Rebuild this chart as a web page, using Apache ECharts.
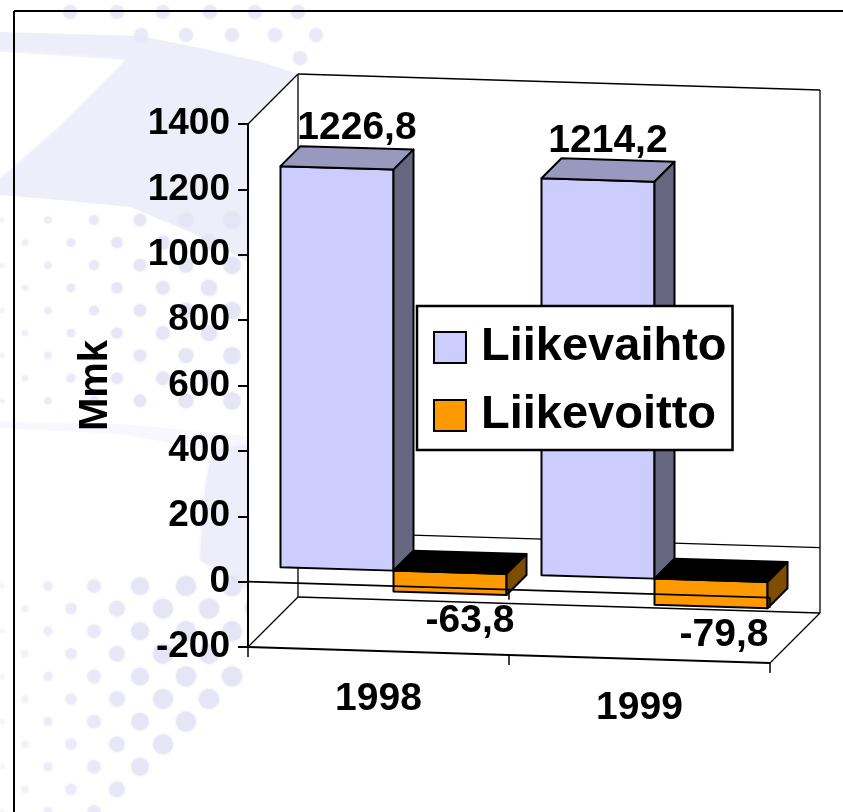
<!DOCTYPE html>
<html>
<head>
<meta charset="utf-8">
<style>html,body{margin:0;padding:0;background:#fff}#c{width:843px;height:812px}</style>
<script src="https://cdn.jsdelivr.net/npm/echarts@6/dist/echarts.min.js"></script>
</head>
<body>
<div id="c"></div>
<script>
const categories = ['1998', '1999'];
const liikevaihto = [1226.8, 1214.2];
const liikevoitto = [-63.8, -79.8];
const seriesNames = ['Liikevaihto', 'Liikevoitto'];

// layout of the oblique projection
const FONT = '"Liberation Sans", Arial, sans-serif';
const SLOPE = 16 / 522, WALL_DEPTH = 50, BAR_FRONT = 15, BAR_BACK = 35, BAR_W = 113;
const LABEL_NUDGE = [[[0, -20], [-10, -19]], [[20, 28], [13, 29]]];
const PALETTE = [
  {front: '#ccccff', top: '#9999bf', side: '#666680'},
  {front: '#ff9900', top: '#000000', side: '#7f4d00'}
];
const INK = '#000';

function projector(api) {
  const band = api.size([1, 0])[0];
  const x0 = api.coord([0, 0])[0] - band / 2;
  return {
    band, x0,
    pt(cat, value, xOff, depth) {
      const p = api.coord([cat, value]);
      const x = p[0] + xOff;
      return [x + depth, p[1] + SLOPE * (x - x0) - depth];
    },
    atX(px, value, depth) {
      const y = api.coord([0, value])[1];
      return [px + depth, y + SLOPE * (px - x0) - depth];
    }
  };
}
function line(a, b, w) {
  return {type: 'line', shape: {x1: a[0], y1: a[1], x2: b[0], y2: b[1]},
    style: {stroke: INK, lineWidth: w, lineCap: 'butt'}};
}
function poly(points, fill, w) {
  return {type: 'polygon', shape: {points}, style: {fill, stroke: INK, lineWidth: w, lineJoin: 'round'}};
}

function renderFrame(params, api) {
  const P = projector(api), x0 = P.x0, x1 = x0 + P.band * categories.length;
  const lo = -200, hi = 1400, d = WALL_DEPTH;
  const c = [];
  c.push(poly([P.atX(x0, lo, 0), P.atX(x0, hi, 0), P.atX(x0, hi, d), P.atX(x0, lo, d)], '#fff', 0));
  c.push(poly([P.atX(x0, lo, d), P.atX(x0, hi, d), P.atX(x1, hi, d), P.atX(x1, lo, d)], '#fff', 0));
  c.push(poly([P.atX(x0, lo, 0), P.atX(x0, lo, d), P.atX(x1, lo, d), P.atX(x1, lo, 0)], '#fff', 0));
  c.forEach(e => { e.style.stroke = '#fff'; e.style.lineWidth = 1; });
  c.push(line(P.atX(x0, hi, 0), P.atX(x0, hi, d), 1.3));
  c.push(line(P.atX(x0, hi, d), P.atX(x1, hi, d), 1.3));
  c.push(line(P.atX(x0, hi, d), P.atX(x0, lo, d), 1.3));
  c.push(line(P.atX(x1, hi, d), P.atX(x1, lo, d), 1.3));
  c.push(line(P.atX(x0, lo, 0), P.atX(x0, lo, d), 1.3));
  c.push(line(P.atX(x1, lo, 0), P.atX(x1, lo, d), 1.3));
  c.push(line(P.atX(x0, lo, d), P.atX(x1, lo, d), 1.3));
  c.push(line(P.atX(x0, 0, d), P.atX(x1, 0, d), 1.3));
  c.push(line(P.atX(x0, lo, 0), P.atX(x1, lo, 0), 2));
  for (let i = 0; i <= categories.length; i++) {
    const a = P.atX(x0 + P.band * i, lo, 0);
    c.push(line(a, [a[0], a[1] + 10], 1.5));
  }
  return {type: 'group', children: c};
}

function renderZero(params, api) {
  const P = projector(api), x0 = P.x0, x1 = x0 + P.band * categories.length;
  const c = [line(P.atX(x0, 0, 0), P.atX(x1, 0, 0), 2)];
  for (let i = 0; i <= categories.length; i++) {
    const a = P.atX(x0 + P.band * i, 0, 0);
    c.push(line(a, [a[0], a[1] + 10], 1.5));
  }
  return {type: 'group', children: c};
}

function renderBar(s) {
  return function (params, api) {
    const P = projector(api);
    const cat = api.value(0), v = api.value(1);
    const xa = s === 0 ? -BAR_W : 0, xb = s === 0 ? 0 : BAR_W;
    const hiV = Math.max(v, 0), loV = Math.min(v, 0);
    const f = BAR_FRONT, b = BAR_BACK, col = PALETTE[s];
    const c = [
      poly([P.pt(cat, hiV, xa, f), P.pt(cat, hiV, xb, f), P.pt(cat, loV, xb, f), P.pt(cat, loV, xa, f)], col.front, 2),
      poly([P.pt(cat, hiV, xa, f), P.pt(cat, hiV, xa, b), P.pt(cat, hiV, xb, b), P.pt(cat, hiV, xb, f)], col.top, 2),
      poly([P.pt(cat, hiV, xb, f), P.pt(cat, hiV, xb, b), P.pt(cat, loV, xb, b), P.pt(cat, loV, xb, f)], col.side, 2)
    ];
    const anchor = s === 0 ? P.pt(cat, v, (xa + xb) / 2, b) : P.pt(cat, v, (xa + xb) / 2, f);
    const n = LABEL_NUDGE[s][cat];
    c.push({type: 'text', z2: 10, style: {
      text: String(v).replace('.', ','), x: anchor[0] + n[0], y: anchor[1] + n[1],
      font: 'bold 39px ' + FONT, fill: INK, align: 'center', verticalAlign: 'middle'
    }});
    return {type: 'group', children: c};
  };
}

// decorative watermark behind the chart
function watermark() {
  const els = [];
  const dot = (x, y, r, o) => els.push({type: 'circle', silent: true, z: -5,
    shape: {cx: x, cy: y, r}, style: {fill: '#e4e4f5', opacity: o, shadowBlur: 3, shadowColor: '#e4e4f5'}});
  els.push({type: 'polygon', silent: true, z: -6, style: {fill: '#eeedfa'}, shape: {points: [
    [0, 32], [140, 36], [200, 48], [262, 62], [300, 75], [248, 124], [248, 262], [190, 232],
    [130, 207], [60, 200], [0, 195]]}});
  els.push({type: 'polygon', silent: true, z: -5, style: {fill: '#ffffff', shadowBlur: 4, shadowColor: '#ffffff'}, shape: {points: [
    [0, 52], [125, 60], [60, 125], [0, 178]]}});
  els.push({type: 'polygon', silent: true, z: -6, style: {fill: '#f7f7fd'}, shape: {points: [
    [0, 428], [120, 434], [210, 450], [248, 452], [248, 436], [120, 424], [0, 422]]}});
  els.push({type: 'polygon', silent: true, z: -6, style: {fill: '#eeedfa', shadowBlur: 4, shadowColor: '#eeedfa'}, shape: {points: [
    [248, 445], [212, 450], [205, 490], [200, 560], [248, 590]]}});
  for (let row = 0; row < 9; row++) {
    const y = 220 + row * 22.6;
    for (let x = (row % 2 ? 25 : 2); x < 248; x += 46) {
      dot(x, y, 2.5 + x / 38, Math.min(0.85, 0.3 + x / 250));
    }
  }
  for (let row = 0; row < 11; row++) {
    const y = 586 + row * 22.6;
    const lim = 300 - row * 16;
    for (let x = (row % 2 ? 25 : 2); x < lim; x += 46) {
      dot(x, y, Math.min(10, 2.5 + x / 22), Math.min(0.85, 0.25 + x / 250));
    }
  }
  [[70, 12], [117, 12], [163, 12], [210, 12], [255, 12], [298, 12],
   [141, 35], [186, 35], [232, 35], [275, 35], [316, 35],
   [300, 58]].forEach(p => dot(p[0], p[1], 7, 0.6));
  return els;
}

const chart = echarts.init(document.getElementById('c'), null, {renderer: 'canvas'});
chart.setOption({
  animation: false,
  backgroundColor: '#fff',
  tooltip: {show: false},
  grid: {left: 248, top: 124, width: 522, height: 523, containLabel: false},
  xAxis: {
    type: 'category', data: categories,
    axisLine: {show: false}, axisTick: {show: false}, splitLine: {show: false},
    axisLabel: {
      margin: 33, interval: 0, color: INK, fontFamily: FONT, fontWeight: 'bold', fontSize: 39,
      formatter: (v, i) => '{c' + i + '|' + v + '}',
      rich: {
        c0: {fontFamily: FONT, fontWeight: 'bold', fontSize: 39, color: INK},
        c1: {fontFamily: FONT, fontWeight: 'bold', fontSize: 39, color: INK, padding: [9, 0, 0, 0]}
      }
    }
  },
  yAxis: {
    type: 'value', min: -200, max: 1400, interval: 200, z: 3,
    name: 'Mmk', nameLocation: 'middle', nameRotate: 90, nameGap: 132,
    nameTextStyle: {color: INK, fontFamily: FONT, fontWeight: 'bold', fontSize: 40},
    axisLine: {show: true, onZero: false, lineStyle: {color: INK, width: 2}},
    axisTick: {show: true, length: 10, lineStyle: {color: INK, width: 2}},
    splitLine: {show: false},
    axisLabel: {margin: 18, color: INK, fontFamily: FONT, fontWeight: 'bold', fontSize: 37, formatter: v => String(v)}
  },
  legend: {
    show: true, orient: 'vertical', left: 417, top: 306, align: 'left',
    data: seriesNames.map((n, i) => ({name: n, icon: 'rect', itemStyle: {color: PALETTE[i].front, borderColor: INK, borderWidth: 2}})),
    itemWidth: 32, itemHeight: 31, itemGap: 21,
    padding: [18, 6, 11, 16],
    backgroundColor: '#fff', borderColor: INK, borderWidth: 2.5, borderRadius: 0,
    selectedMode: false,
    textStyle: {color: INK, fontFamily: FONT, fontWeight: 'bold', fontSize: 47, padding: [0, 0, 0, 10]}
  },
  graphic: {elements: watermark().concat([
    {type: 'line', silent: true, z: -1, shape: {x1: 14, y1: 11, x2: 843, y2: 11}, style: {stroke: INK, lineWidth: 2}},
    {type: 'line', silent: true, z: -1, shape: {x1: 14, y1: 11, x2: 14, y2: 812}, style: {stroke: INK, lineWidth: 2}}
  ])},
  series: [
    {type: 'custom', name: 'frame', z: 1, silent: true, renderItem: renderFrame, data: [[0, 0]], encode: {x: 0, y: 1}, clip: false},
    {type: 'custom', name: seriesNames[0], z: 2, renderItem: renderBar(0),
      data: liikevaihto.map((v, i) => [i, v]), encode: {x: 0, y: 1}, itemStyle: {color: PALETTE[0].front}, clip: false},
    {type: 'custom', name: seriesNames[1], z: 2, renderItem: renderBar(1),
      data: liikevoitto.map((v, i) => [i, v]), encode: {x: 0, y: 1}, itemStyle: {color: PALETTE[1].front}, clip: false},
    {type: 'custom', name: 'zero', z: 3, silent: true, renderItem: renderZero, data: [[0, 0]], encode: {x: 0, y: 1}, clip: false}
  ]
});
</script>
</body>
</html>
